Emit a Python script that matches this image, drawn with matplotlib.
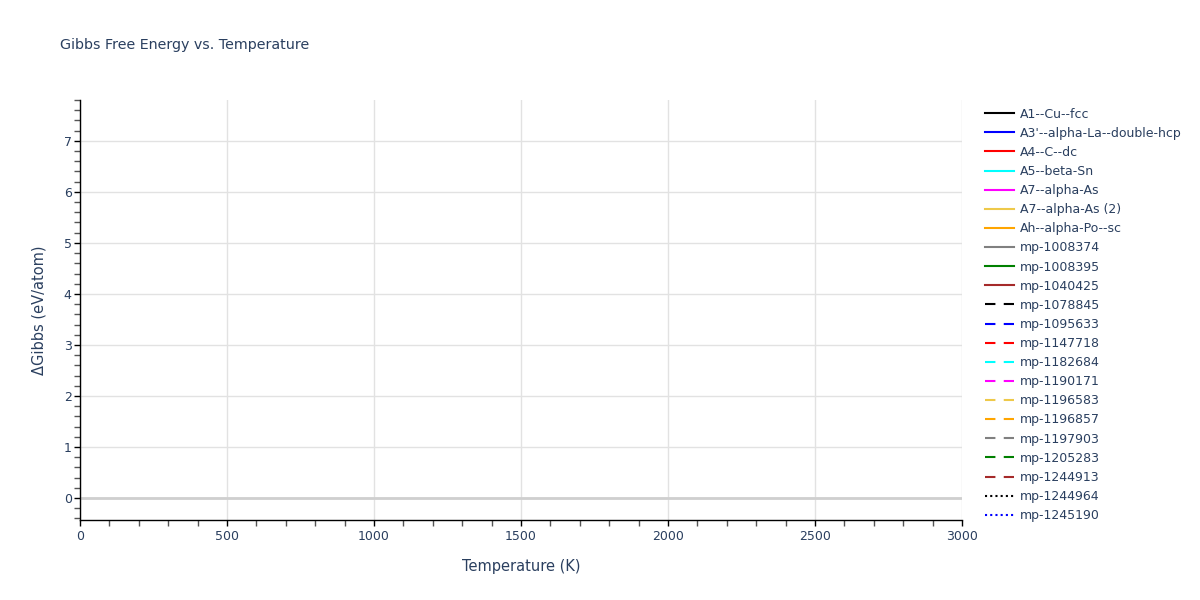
import matplotlib
matplotlib.use("Agg")
import matplotlib.pyplot as plt
from matplotlib.ticker import MultipleLocator

plt.rcParams['font.family'] = ['DejaVu Sans']

# Data: series names, colours and line styles; no visible data points in the reference
series_names = [
    "A1--Cu--fcc", "A3'--alpha-La--double-hcp", "A4--C--dc", "A5--beta-Sn",
    "A7--alpha-As", "A7--alpha-As (2)", "Ah--alpha-Po--sc", "mp-1008374",
    "mp-1008395", "mp-1040425", "mp-1078845", "mp-1095633", "mp-1147718",
    "mp-1182684", "mp-1190171", "mp-1196583", "mp-1196857", "mp-1197903",
    "mp-1205283", "mp-1244913", "mp-1244964", "mp-1245190",
]
series_colors = [
    "black", "blue", "red", "cyan", "magenta", "#eec94a", "orange", "grey",
    "green", "brown",
    "black", "blue", "red", "cyan", "magenta", "#eec94a", "orange", "grey",
    "green", "brown",
    "black", "blue",
]
series_styles = ["solid"] * 10 + ["dash"] * 10 + ["dot"] * 2
temperatures = []          # K (no plotted values visible)
series_values = {name: [] for name in series_names}  # eV/atom

x_range = (0, 3000)
y_range = (-0.43, 7.8)

text_color = "#2a3f5f"

fig = plt.figure(figsize=(12, 6), dpi=100)
ax = fig.add_axes([80/1200, 1-520/600, (962-80)/1200, (520-100)/600])

dash_map = {"solid": None, "dash": (5, 4), "dot": (1, 1.5)}
handles = []
for name, col, sty in zip(series_names, series_colors, series_styles):
    ln, = ax.plot(temperatures, series_values[name], color=col, lw=1.5, label=name)
    if dash_map[sty] is not None:
        ln.set_dashes(dash_map[sty])
    handles.append(ln)

ax.set_xlim(*x_range)
ax.set_ylim(*y_range)

ax.xaxis.set_major_locator(MultipleLocator(500))
ax.xaxis.set_minor_locator(MultipleLocator(100))
ax.yaxis.set_major_locator(MultipleLocator(1))
ax.yaxis.set_minor_locator(MultipleLocator(0.2))

ax.grid(True, which="major", color="#e2e2e2", lw=1)
ax.set_axisbelow(True)
ax.axhline(0, color="#cfcfcf", lw=2, zorder=1)

for s in ["top", "right"]:
    ax.spines[s].set_visible(False)
for s in ["left", "bottom"]:
    ax.spines[s].set_color("black")
    ax.spines[s].set_linewidth(1)

ax.tick_params(axis="both", which="major", direction="out", length=4, width=1,
               color="black", labelsize=9, labelcolor=text_color, pad=2)
ax.tick_params(axis="x", which="major", pad=3.5)
ax.tick_params(axis="both", which="minor", direction="out", length=4, width=1,
               color="#555555")

ax.set_xlabel("Temperature (K)", fontsize=10.5, color=text_color, labelpad=11)
ax.set_ylabel("ΔGibbs (eV/atom)", fontsize=10.5, color=text_color, labelpad=12)

fig.text(60/1200, 1-45/600, "Gibbs Free Energy vs. Temperature", fontsize=10.3,
         color=text_color, ha="left", va="center")

leg = fig.legend(handles=handles, loc="upper left", bbox_to_anchor=(985/1200, 1-107.5/600),
                 frameon=False, fontsize=9, handlelength=2.3, handletextpad=0.5,
                 labelspacing=0.49, borderaxespad=0, borderpad=0)
for t in leg.get_texts():
    t.set_color(text_color)

fig.savefig("out.png", dpi=100)
